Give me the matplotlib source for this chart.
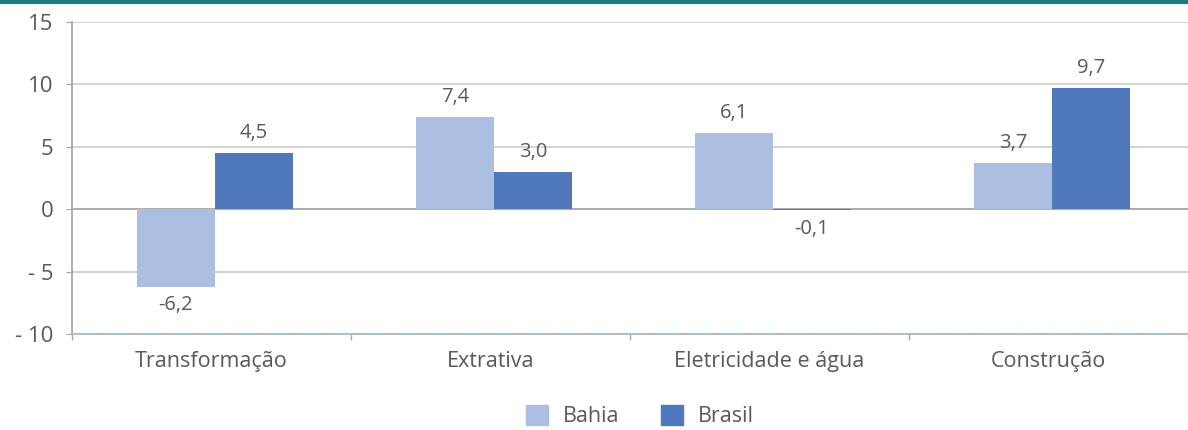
import matplotlib
matplotlib.use("Agg")
import matplotlib.pyplot as plt
import numpy as np
from matplotlib.patches import Patch

categories = ["Transformação", "Extrativa", "Eletricidade e água", "Construção"]
series_names = ["Bahia", "Brasil"]
bahia = [-6.2, 7.4, 6.1, 3.7]
brasil = [4.5, 3.0, -0.1, 9.7]
yticks = [-10, -5, 0, 5, 10, 15]
ytick_labels = ["- 10", "- 5", "0", "5", "10", "15"]

c_bahia = "#aabfe1"
c_brasil = "#5079bc"
txt = "#595959"

plt.rcParams['font.family'] = ['Open Sans', 'DejaVu Sans']

fig = plt.figure(figsize=(11.88, 4.30), dpi=100)
ax = fig.add_axes([72/1188, 1-334/430, 1-72/1188, (334-22)/430])

x = np.arange(len(categories))
w = 0.279
off = 0.012
b1 = ax.bar(x + off - w/2, bahia, w, color=c_bahia, zorder=3)
b2 = ax.bar(x + off + w/2, brasil, w, color=c_brasil, zorder=3)

def fmt(v):
    return f"{v:.1f}".replace(".", ",")

for bars, vals in ((b1, bahia), (b2, brasil)):
    for rect, v in zip(bars, vals):
        cx = rect.get_x() + rect.get_width()/2
        if v >= 0:
            ax.annotate(fmt(v), (cx, v), xytext=(0, 7), textcoords="offset points",
                        ha="center", va="bottom", fontsize=14.5, color=txt)
        else:
            ax.annotate(fmt(v), (cx, v), xytext=(0, -6), textcoords="offset points",
                        ha="center", va="top", fontsize=14.5, color=txt)

ax.set_xlim(-0.5, len(categories) - 0.5)
ax.set_ylim(-10, 15)
ax.set_yticks(yticks)
ax.set_yticklabels(ytick_labels, fontsize=16, color=txt)
for v in yticks:
    if v not in (-10, 0):
        ax.axhline(v, color="#d0d0d0", lw=1.3, zorder=1)
ax.axhline(0, color="#a6a6a6", lw=1.3, zorder=2)
ax.axhline(-10, color="#b0b0b0", lw=1.3, zorder=4, clip_on=False)
ax.axhline(-10, color="#a9c4d9", lw=1.3, zorder=5, clip_on=False, dashes=(12, 6))

ax.set_xticks(x)
ax.set_xticklabels(categories, fontsize=15.5, color=txt)
ax.tick_params(axis="x", length=0, pad=12)
ax.set_xticks(np.arange(-0.5, len(categories)), minor=True)
ax.tick_params(axis="x", which="minor", length=4.5, color="#a6a6a6", width=1)
ax.tick_params(axis="y", length=4.5, color="#a6a6a6", pad=9)

for s in ("top", "right", "bottom"):
    ax.spines[s].set_visible(False)
ax.spines["left"].set_color("#a6a6a6")
ax.spines["left"].set_linewidth(1.3)

handles = [Patch(color=c_bahia), Patch(color=c_brasil)]
fig.legend(handles, series_names, loc="center", bbox_to_anchor=(640/1188, 1-416/430),
           ncol=2, frameon=False, fontsize=15.5, labelcolor=txt,
           handlelength=1.05, handleheight=1.05, columnspacing=1.9, handletextpad=0.7)

fig.add_artist(plt.Line2D([0, 1], [1 - 1.5/430, 1 - 1.5/430], transform=fig.transFigure,
                          color="#1f7a80", lw=3))

fig.savefig("out.png", dpi=100)
